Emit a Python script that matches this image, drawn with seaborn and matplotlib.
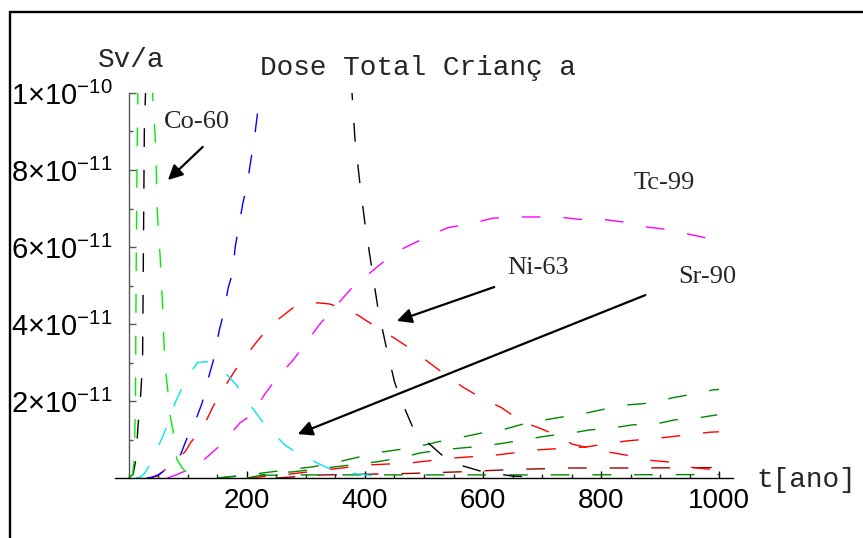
import numpy as np
import pandas as pd
import matplotlib
matplotlib.use("Agg")
import matplotlib.pyplot as plt
import seaborn as sns
from matplotlib.ticker import FixedLocator, FixedFormatter
from matplotlib.lines import Line2D

# ---------------- data (dose in units of 1e-11 Sv/a) ----------------
co60_t = [0, 6, 9, 11, 12, 13.5, 15, 20, 28, 36, 41, 44, 46, 48, 51, 53, 55, 57, 58.5, 60, 62, 66, 70, 75, 81, 90, 100, 115, 130]
co60_y = [0, 0.1, 0.5, 2, 5, 8, 10, 13, 15, 12, 9.6, 9.0, 8.2, 6.9, 6.2, 5.7, 5.0, 4.5, 3.8, 3.3, 2.8, 2.25, 1.6, 1.2, 0.5, 0.26, 0.12, 0.04, 0]

black_t = [0, 7, 12, 15, 20, 23, 24, 25, 26, 28, 60, 200, 340, 378, 383, 391, 400, 411, 422, 436, 450, 459, 480, 495, 505, 530, 560, 600, 650, 700]
black_y = [0, 0.1, 0.5, 1.3, 2.2, 3.0, 5.0, 7.0, 9.0, 10.0, 14, 20, 14, 10.0, 8.8, 7.7, 6.6, 5.5, 4.4, 3.4, 2.5, 2.1, 1.35, 1.1, 0.94, 0.6, 0.34, 0.16, 0.05, 0.02]

blue_t = [30, 39, 49, 64, 86, 100, 108, 124, 131, 142, 149, 153, 161, 168, 176, 180, 185, 193, 200, 205, 208, 214, 218, 221, 300, 600, 1000]
blue_y = [0, 0.02, 0.08, 0.23, 0.55, 1.1, 1.3, 1.95, 2.4, 3.0, 3.5, 3.84, 4.31, 4.93, 5.35, 6.0, 6.44, 7.14, 7.6, 8.1, 8.4, 9.0, 9.5, 10.0, 15, 20, 20]

sr90_t = [12, 20, 27, 37, 47, 56, 64, 78, 90, 105, 116, 130, 143, 159, 183, 205, 227, 264, 290, 337, 369, 413, 435]
sr90_y = [0, 0.03, 0.13, 0.4, 0.73, 1.04, 1.32, 1.95, 2.34, 2.75, 3.0, 3.02, 3.0, 2.8, 2.4, 1.9, 1.45, 0.86, 0.6, 0.26, 0.14, 0.06, 0]

ni63_t = [35, 50, 64, 80, 95, 105, 125, 142, 159, 180, 196, 212, 236, 257, 278, 300, 320, 340, 354, 388, 414, 444, 473, 505, 532, 566, 595, 632, 664, 700, 732, 751, 802, 841, 875, 912, 946, 1000]
ni63_y = [0, 0.06, 0.26, 0.47, 0.68, 0.93, 1.3, 1.84, 2.29, 2.8, 3.12, 3.45, 3.9, 4.17, 4.42, 4.5, 4.55, 4.52, 4.45, 4.23, 3.97, 3.69, 3.40, 3.04, 2.73, 2.36, 2.10, 1.82, 1.48, 1.27, 1.06, 0.88, 0.70, 0.60, 0.47, 0.42, 0.29, 0.2]

tc99_t = [65, 80, 92, 115, 146, 161, 188, 208, 231, 251, 278, 297, 322, 346, 378, 414, 439, 459, 510, 540, 583, 617, 658, 692, 729, 761, 802, 837, 876, 905, 947, 980, 1000]
tc99_y = [0, 0.08, 0.16, 0.31, 0.73, 0.94, 1.43, 1.64, 2.2, 2.6, 3.06, 3.45, 3.97, 4.39, 4.94, 5.4, 5.71, 5.92, 6.3, 6.5, 6.62, 6.75, 6.78, 6.78, 6.78, 6.72, 6.72, 6.65, 6.52, 6.47, 6.34, 6.23, 6.18]

g1_t = [150, 200, 242, 276, 312, 346, 383, 417, 454, 488, 524, 558, 598, 632, 675, 705, 744, 776, 815, 846, 886, 920, 956, 990, 1000]
g1_y = [0, 0.08, 0.16, 0.23, 0.29, 0.39, 0.52, 0.65, 0.73, 0.81, 0.94, 1.04, 1.17, 1.25, 1.43, 1.51, 1.61, 1.69, 1.82, 1.90, 1.95, 2.08, 2.18, 2.29, 2.3]

g2_t = [200, 244, 278, 315, 349, 388, 420, 459, 493, 530, 564, 602, 637, 675, 708, 751, 781, 820, 853, 892, 925, 963, 997]
g2_y = [0, 0.13, 0.16, 0.23, 0.29, 0.36, 0.42, 0.52, 0.65, 0.73, 0.78, 0.83, 0.91, 1.01, 1.09, 1.17, 1.25, 1.30, 1.38, 1.40, 1.51, 1.56, 1.64]

g3_t = [150, 200, 300, 500, 700, 1000]
g3_y = [0, 0.07, 0.08, 0.08, 0.08, 0.09]

r2_t = [200, 261, 332, 407, 476, 551, 624, 693, 776, 842, 912, 985, 1000]
r2_y = [0, 0.08, 0.21, 0.34, 0.39, 0.52, 0.60, 0.73, 0.81, 0.96, 1.06, 1.19, 1.2]

dr_t = [250, 330, 410, 480, 560, 650, 750, 850, 1000]
dr_y = [0, 0.08, 0.1, 0.12, 0.16, 0.22, 0.26, 0.26, 0.27]

x_ticks = [200, 400, 600, 800, 1000]
x_tick_labels = ["200", "400", "600", "800", "1000"]
y_ticks = [2e-11, 4e-11, 6e-11, 8e-11, 1e-10]
y_tick_labels = [r"$2{\times}10^{-11}$", r"$4{\times}10^{-11}$", r"$6{\times}10^{-11}$",
                 r"$8{\times}10^{-11}$", r"$1{\times}10^{-10}$"]

series = [
    (dr_t, dr_y, "#990000"),
    (g3_t, g3_y, "#008800"),
    (r2_t, r2_y, "#ff0000"),
    (g2_t, g2_y, "#008800"),
    (g1_t, g1_y, "#008800"),
    (tc99_t, tc99_y, "#ff00ff"),
    (ni63_t, ni63_y, "#ff0000"),
    (sr90_t, sr90_y, "#00e5ee"),
    (blue_t, blue_y, "#0000ff"),
    (black_t, black_y, "#000000"),
    (co60_t, co60_y, "#00ee00"),
]

# ---------------- style ----------------
sns.set_style("white")
plt.rcParams['font.family'] = ['Liberation Sans', 'DejaVu Sans']
plt.rcParams['mathtext.fontset'] = 'custom'
plt.rcParams['mathtext.rm'] = 'Liberation Sans'
plt.rcParams['mathtext.it'] = 'Liberation Sans:italic'
plt.rcParams['mathtext.bf'] = 'Liberation Sans:bold'

W, H = 863, 538
fig = plt.figure(figsize=(W / 100, H / 100), dpi=100)
fig.patch.set_facecolor("white")
ax = fig.add_axes([115 / W, 1 - 478 / H, 618 / W, 385 / H])
ax.set_facecolor("white")

for t, y, c in series:
    sns.lineplot(x=np.array(t, dtype=float), y=np.array(y) * 1e-11, color=c, lw=1.0,
                 estimator=None, sort=False, errorbar=None, legend=False, ax=ax)
    ax.lines[-1].set_dashes([13.5, 16.5])

ax.set_xlim(-23.7, 1023.7)
ax.set_ylim(0, 1e-10)
ax.set_xlabel("")
ax.set_ylabel("")

for s in ["top", "right"]:
    ax.spines[s].set_visible(False)
ax.spines["left"].set_position(("data", 0))
ax.spines["left"].set_color("#555555")
ax.spines["left"].set_linewidth(1.0)
ax.spines["bottom"].set_color("black")
ax.spines["bottom"].set_linewidth(1.0)

ax.xaxis.set_major_locator(FixedLocator(x_ticks))
ax.xaxis.set_major_formatter(FixedFormatter(x_tick_labels))
ax.xaxis.set_minor_locator(FixedLocator(np.arange(0, 1001, 50)))
ax.yaxis.set_major_locator(FixedLocator(y_ticks))
ax.yaxis.set_major_formatter(FixedFormatter(y_tick_labels))
ax.yaxis.set_minor_locator(FixedLocator(np.arange(1, 10) * 1e-11))

ax.tick_params(axis="x", which="major", direction="in", length=5, width=1, pad=7,
               labelsize=20, colors="black", bottom=True)
ax.tick_params(axis="x", which="minor", direction="in", length=3, width=1, bottom=True)
ax.tick_params(axis="y", which="major", direction="in", length=5, width=1, pad=12,
               labelsize=21, color="#555555", labelcolor="black", left=True)
ax.tick_params(axis="y", which="minor", direction="in", length=3, width=1, color="#555555", left=True)

# texts
mono = "Liberation Mono"
fig.text(131 / W, 1 - 67 / H, "Sv/a", family=mono, size=20, ha="center", va="baseline")
fig.text(260 / W, 1 - 75 / H, "Dose Total Crianç a", family=mono, size=20, ha="left", va="baseline")
fig.text(756 / W, 1 - 487 / H, "t[ano]", family=mono, size=20, ha="left", va="baseline")

serif = "Liberation Serif"
ax.text(115, 9.25e-11, "Co-60", family=serif, size=19, ha="center", va="center")
ax.text(907, 7.66e-11, "Tc-99", family=serif, size=19, ha="center", va="center")
ax.text(693, 5.45e-11, "Ni-63", family=serif, size=19, ha="center", va="center")
ax.text(981, 5.22e-11, "Sr-90", family=serif, size=19, ha="center", va="center", clip_on=False)

arr = dict(arrowstyle="-|>", color="black", lw=1.6, shrinkA=0, shrinkB=0, mutation_scale=22)
ax.annotate("", xy=(66, 7.74e-11), xytext=(125, 8.6e-11), arrowprops=arr)
ax.annotate("", xy=(454, 4.08e-11), xytext=(619, 4.96e-11), arrowprops=arr)
ax.annotate("", xy=(286, 1.14e-11), xytext=(875, 4.75e-11), arrowprops=arr, annotation_clip=False)

# outer frame (left and top edges visible)
fig.add_artist(Line2D([9.5 / W, 9.5 / W], [0, 1 - 11.5 / H], transform=fig.transFigure, color="black", lw=1.7))
fig.add_artist(Line2D([9.5 / W, 1], [1 - 11.5 / H, 1 - 11.5 / H], transform=fig.transFigure, color="black", lw=1.7))

fig.savefig("out.png", dpi=100, facecolor="white")
